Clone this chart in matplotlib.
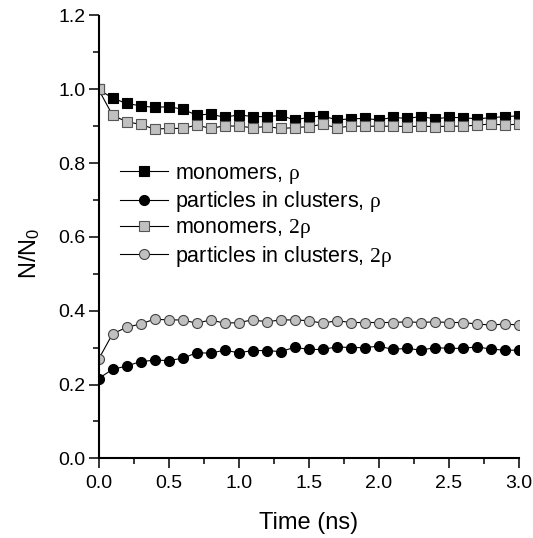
import matplotlib
matplotlib.use("Agg")
import matplotlib.pyplot as plt
import numpy as np
from matplotlib.ticker import MultipleLocator

plt.rcParams['font.family'] = ['Liberation Sans', 'DejaVu Sans']
plt.rcParams['mathtext.fontset'] = 'custom'
plt.rcParams['mathtext.rm'] = 'Liberation Serif'
plt.rcParams['mathtext.it'] = 'Liberation Serif'
plt.rcParams['mathtext.sf'] = 'Liberation Sans'

time_ns = [0.0, 0.1, 0.2, 0.3, 0.4, 0.5, 0.6, 0.7, 0.8, 0.9, 1.0,
           1.1, 1.2, 1.3, 1.4, 1.5, 1.6, 1.7, 1.8, 1.9, 2.0,
           2.1, 2.2, 2.3, 2.4, 2.5, 2.6, 2.7, 2.8, 2.9, 3.0]

monomers_rho = [1.0, 0.976, 0.962, 0.955, 0.951, 0.953, 0.946, 0.930, 0.933, 0.924, 0.931,
                0.926, 0.926, 0.929, 0.917, 0.924, 0.928, 0.917, 0.920, 0.921, 0.917,
                0.924, 0.921, 0.926, 0.920, 0.924, 0.923, 0.920, 0.923, 0.926, 0.928]

clusters_rho = [0.216, 0.241, 0.250, 0.262, 0.266, 0.265, 0.271, 0.286, 0.285, 0.293, 0.286,
                0.292, 0.292, 0.289, 0.301, 0.295, 0.295, 0.302, 0.300, 0.300, 0.304,
                0.295, 0.298, 0.293, 0.300, 0.298, 0.298, 0.302, 0.296, 0.293, 0.293]

monomers_2rho = [1.0, 0.930, 0.912, 0.905, 0.892, 0.894, 0.894, 0.903, 0.894, 0.901, 0.900,
                 0.896, 0.899, 0.894, 0.896, 0.899, 0.905, 0.896, 0.900, 0.900, 0.900,
                 0.900, 0.899, 0.900, 0.899, 0.900, 0.900, 0.903, 0.906, 0.903, 0.906]

clusters_2rho = [0.268, 0.337, 0.355, 0.364, 0.377, 0.375, 0.375, 0.366, 0.375, 0.366, 0.368,
                 0.375, 0.370, 0.375, 0.375, 0.373, 0.366, 0.373, 0.368, 0.368, 0.368,
                 0.368, 0.370, 0.368, 0.370, 0.368, 0.368, 0.364, 0.361, 0.364, 0.361]

labels = [r"monomers, $\rho$", r"particles in clusters, $\rho$",
          r"monomers, $2\rho$", r"particles in clusters, $2\rho$"]

fig = plt.figure(figsize=(5.33, 5.38), dpi=100)
ax = fig.add_axes([98.5/533, 1 - 458.3/538, 420.5/533, 442.8/538])

ms = 7.2
gray = '#c0c0c0'
ax.plot(time_ns, monomers_rho, '-', color='black', lw=0.8, marker='s', ms=ms,
        mfc='black', mec='black', mew=0.8, label=labels[0])
ax.plot(time_ns, clusters_rho, '-', color='black', lw=0.8, marker='o', ms=ms,
        mfc='black', mec='black', mew=0.8, label=labels[1])
ax.plot(time_ns, monomers_2rho, '-', color='black', lw=0.8, marker='s', ms=ms,
        mfc=gray, mec='#555555', mew=0.8, label=labels[2])
ax.plot(time_ns, clusters_2rho, '-', color='black', lw=0.8, marker='o', ms=ms,
        mfc=gray, mec='#444444', mew=0.8, label=labels[3])

ax.set_xlim(0, 3.0)
ax.set_ylim(0, 1.2)
ax.xaxis.set_major_locator(MultipleLocator(0.5))
ax.xaxis.set_minor_locator(MultipleLocator(0.25))
ax.yaxis.set_major_locator(MultipleLocator(0.2))
ax.yaxis.set_minor_locator(MultipleLocator(0.1))
ax.xaxis.set_major_formatter(plt.FormatStrFormatter('%.1f'))
ax.yaxis.set_major_formatter(plt.FormatStrFormatter('%.1f'))

for s in ['top', 'right']:
    ax.spines[s].set_visible(False)
for s in ['left', 'bottom']:
    ax.spines[s].set_linewidth(1.5)

ax.tick_params(which='major', direction='out', length=7.2, width=1.1, labelsize=14)
ax.tick_params(which='minor', direction='out', length=4, width=1.1)
ax.tick_params(axis='y', which='major', pad=2)
ax.tick_params(axis='x', which='major', pad=5)

ax.set_xlabel("Time (ns)", fontsize=17)
ax.set_ylabel(r"N/N$_\mathsf{0}$", fontsize=17)
ax.xaxis.set_label_coords(0.5, -0.122)
ax.yaxis.set_label_coords(-0.135, 0.464)

leg = ax.legend(loc='upper left', bbox_to_anchor=(0.051, 0.667), frameon=False,
                fontsize=15.5, handlelength=2.23, handletextpad=0.33,
                labelspacing=0.15, borderpad=0, borderaxespad=0)

fig.savefig("out.png", dpi=100)
